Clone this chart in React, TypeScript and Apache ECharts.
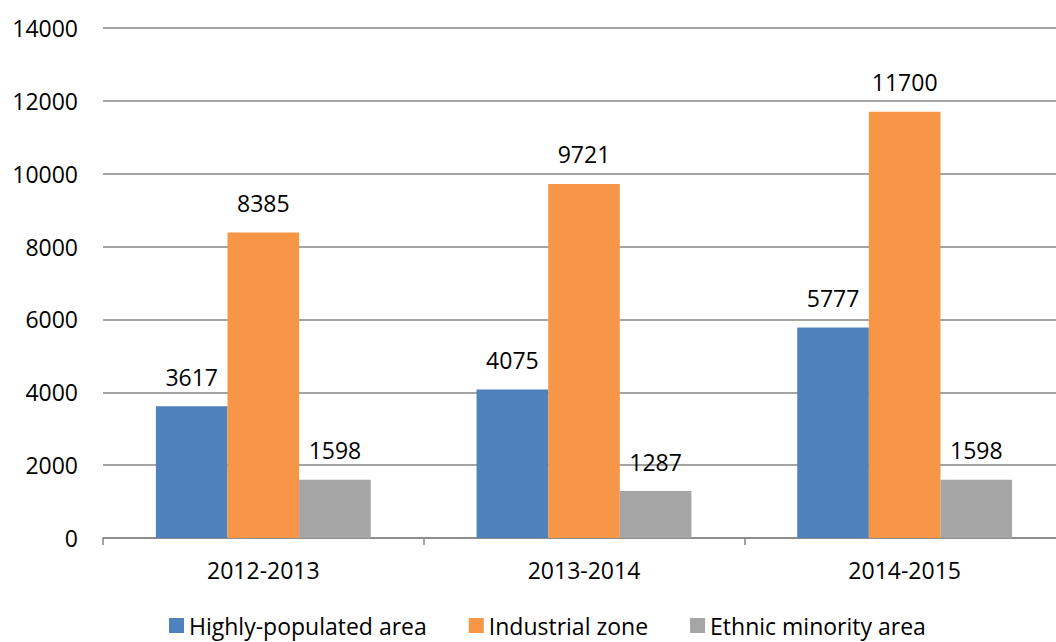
import React, { useEffect, useRef } from "react";
import * as echarts from "echarts";

const categories = ["2012-2013", "2013-2014", "2014-2015"];
const seriesNames = ["Highly-populated area", "Industrial zone", "Ethnic minority area"];
const highlyPopulated = [3617, 4075, 5777];
const industrialZone = [8385, 9721, 11700];
const ethnicMinority = [1598, 1287, 1598];
const colors = ["#4F81BD", "#F79646", "#A5A5A5"];
const FONT = "'Open Sans', sans-serif";
const FS = 23;

export default function App() {
  const ref = useRef<HTMLDivElement>(null);
  useEffect(() => {
    if (!ref.current) return;
    const chart = echarts.init(ref.current, undefined, { renderer: "svg" });
    const values = [highlyPopulated, industrialZone, ethnicMinority];
    chart.setOption({
      animation: false,
      textStyle: { fontFamily: FONT },
      grid: {
        left: 103,
        top: 28,
        width: 962,
        height: 510,
        containLabel: false,
        outerBoundsMode: "none",
      },
      legend: {
        bottom: 0,
        left: 164,
        itemWidth: 15,
        itemHeight: 15,
        itemGap: 42,
        icon: "rect",
        textStyle: { fontFamily: FONT, fontSize: FS, color: "#000" },
        data: seriesNames,
      },
      xAxis: {
        type: "category",
        data: categories,
        axisLine: { lineStyle: { color: "#868686", width: 1.5 } },
        axisTick: { show: true, length: 7, lineStyle: { color: "#868686", width: 1.5 } },
        axisLabel: { fontFamily: FONT, fontSize: FS, color: "#000", margin: 20 },
      },
      yAxis: {
        type: "value",
        min: 0,
        max: 14000,
        interval: 2000,
        axisLine: { show: false },
        axisTick: { show: false },
        splitLine: { lineStyle: { color: "#868686", width: 1.5 } },
        axisLabel: {
          fontFamily: FONT,
          fontSize: FS,
          color: "#000",
          margin: 25,
          formatter: (v: number) => String(v),
        },
      },
      series: seriesNames.map((name, i) => ({
        name,
        type: "bar",
        data: values[i],
        barGap: "0%",
        barCategoryGap: "33%",
        itemStyle: { color: colors[i] },
        label: {
          show: true,
          position: "top",
          distance: 18,
          fontFamily: FONT,
          fontSize: FS,
          color: "#000",
        },
      })),
    });
    return () => chart.dispose();
  }, []);
  return <div ref={ref} style={{ width: 1056, height: 642, position: "absolute", left: 0, top: 0 }} />;
}
